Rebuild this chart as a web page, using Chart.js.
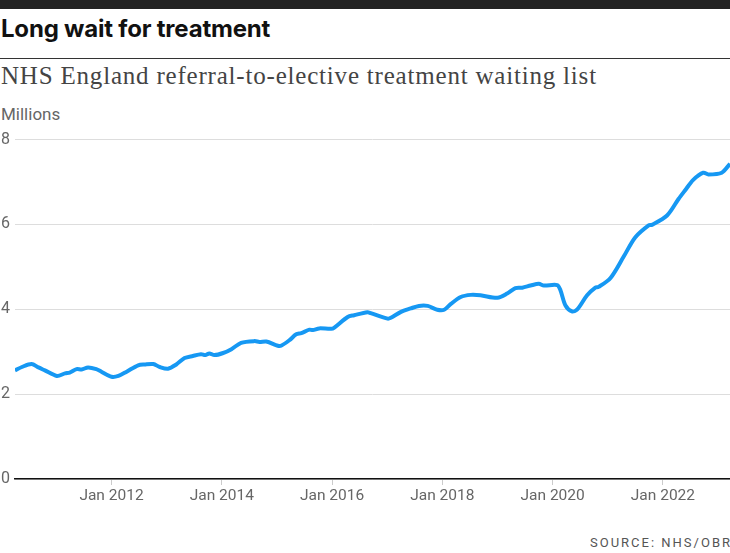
<!DOCTYPE html>
<html>
<head>
<meta charset="utf-8">
<script src="https://cdn.jsdelivr.net/npm/chart.js@4.4.0/dist/chart.umd.min.js"></script>
<style>
  html, body { margin: 0; padding: 0; background: #fff; }
  body { width: 730px; height: 553px; position: relative; overflow: hidden; }
  .topbar { position: absolute; left: 0; top: 0; width: 730px; height: 9px; background: #222; }
  .title { position: absolute; left: 1px; top: 14px; font: 700 24px Inter, sans-serif; letter-spacing: -0.2px; color: #111; }
  .rule { position: absolute; left: 0; top: 58px; width: 730px; height: 1px; background: #333; }
  .subtitle { position: absolute; left: 1px; top: 62px; font: 400 25px "Liberation Serif", serif; letter-spacing: 0.8px; color: #444; white-space: nowrap; }
  .unit { position: absolute; left: 1px; top: 104px; font: 400 17px Roboto, sans-serif; color: #666; }
  .source { position: absolute; right: 0; top: 535px; font: 400 13px Roboto, sans-serif; letter-spacing: 2px; color: #555; margin-right: -2px; }
  #wrap { position: absolute; left: 0; top: 125px; width: 730px; height: 390px; }
</style>
</head>
<body>
<div class="topbar"></div>
<div class="title">Long wait for treatment</div>
<div class="rule"></div>
<div class="subtitle">NHS England referral-to-elective treatment waiting list</div>
<div class="unit">Millions</div>
<div id="wrap"><canvas id="chart"></canvas></div>
<div class="source">SOURCE: NHS/OBR</div>
<script>
// months counted from Jan 2010 = 0
const months = [3, 4.5, 6.6, 8.1, 9.5, 12.1, 13.9, 14.9, 16.4, 17.5, 18.9, 20.7, 21.8, 24, 25.5, 27.3,
  29.8, 31.2, 33.1, 34.5, 36.3, 38.1, 39.9, 41.7, 43.5, 44.4, 45.3, 46.4, 48.3, 50.1, 52.2, 55.1,
  56.2, 57.7, 60.2, 60.9, 62.7, 64.2, 65.3, 67.1, 67.8, 69.2, 71.8, 72.5, 75.4, 76.8, 79.7, 80.4,
  84.1, 84.8, 87, 89.1, 90.9, 92.8, 94.9, 96.4, 97.8, 100, 102.2, 104.3, 108, 110.1, 111.9, 113.4,
  115.2, 117, 118.1, 121, 121.7, 122.8, 124.2, 125.3, 127.5, 129.3, 130, 132.6, 135.5, 138, 140.9,
  141.6, 144.9, 147.4, 148.8, 150.6, 152.8, 153.9, 156.8, 158.6];
const waiting = [2.56, 2.64, 2.71, 2.63, 2.56, 2.43, 2.49, 2.51, 2.59, 2.58, 2.63, 2.59, 2.53, 2.41, 2.43, 2.53,
  2.68, 2.70, 2.71, 2.64, 2.60, 2.70, 2.85, 2.90, 2.94, 2.92, 2.96, 2.92, 2.97, 3.06, 3.21, 3.25,
  3.23, 3.24, 3.14, 3.14, 3.27, 3.41, 3.44, 3.52, 3.51, 3.55, 3.54, 3.57, 3.82, 3.86, 3.93, 3.91,
  3.78, 3.80, 3.94, 4.02, 4.08, 4.08, 3.99, 3.99, 4.12, 4.29, 4.34, 4.33, 4.27, 4.37, 4.50, 4.51,
  4.56, 4.60, 4.56, 4.57, 4.45, 4.09, 3.95, 3.99, 4.33, 4.51, 4.53, 4.74, 5.25, 5.70, 5.98,
  5.99, 6.21, 6.60, 6.80, 7.05, 7.22, 7.18, 7.22, 7.43];
const tickMonths = [24, 48, 72, 96, 120, 144];
const tickLabels = ['Jan 2012', 'Jan 2014', 'Jan 2016', 'Jan 2018', 'Jan 2020', 'Jan 2022'];
const yTicks = [0, 2, 4, 6, 8];

const axisFont = { family: 'Roboto, sans-serif', size: 16 };

new Chart(document.getElementById('chart'), {
  type: 'line',
  data: {
    datasets: [{
      data: months.map((m, i) => ({ x: m, y: waiting[i] })),
      borderColor: '#1698f3',
      borderWidth: 4,
      pointRadius: 0,
      tension: 0.3,
      fill: false
    }]
  },
  options: {
    responsive: true,
    maintainAspectRatio: false,
    animation: false,
    layout: { padding: { top: 0, right: 0, left: 0, bottom: 0 } },
    plugins: { legend: { display: false }, tooltip: { enabled: false } },
    scales: {
      x: {
        type: 'linear',
        min: 3,
        max: 158.6,
        afterBuildTicks: (axis) => { axis.ticks = tickMonths.map(v => ({ value: v })); },
        ticks: {
          autoSkip: false,
          maxRotation: 0,
          padding: 2,
          color: '#666',
          font: { family: 'Roboto, sans-serif', size: 15.5 },
          callback: (v) => tickLabels[tickMonths.indexOf(v)]
        },
        grid: { drawOnChartArea: false, drawTicks: true, tickLength: 6, color: '#ccc' },
        border: { display: true, color: '#111', width: 1.5 },
        afterFit: (axis) => { axis.height = 36; }
      },
      y: {
        min: 0,
        max: 8,
        afterBuildTicks: (axis) => { axis.ticks = yTicks.map(v => ({ value: v })); },
        ticks: { color: '#666', font: axisFont, padding: 5 },
        grid: { drawTicks: false, color: '#ddd', lineWidth: 1 },
        border: { display: false },
        afterFit: (axis) => { axis.width = 15; }
      }
    }
  }
});
</script>
</body>
</html>
